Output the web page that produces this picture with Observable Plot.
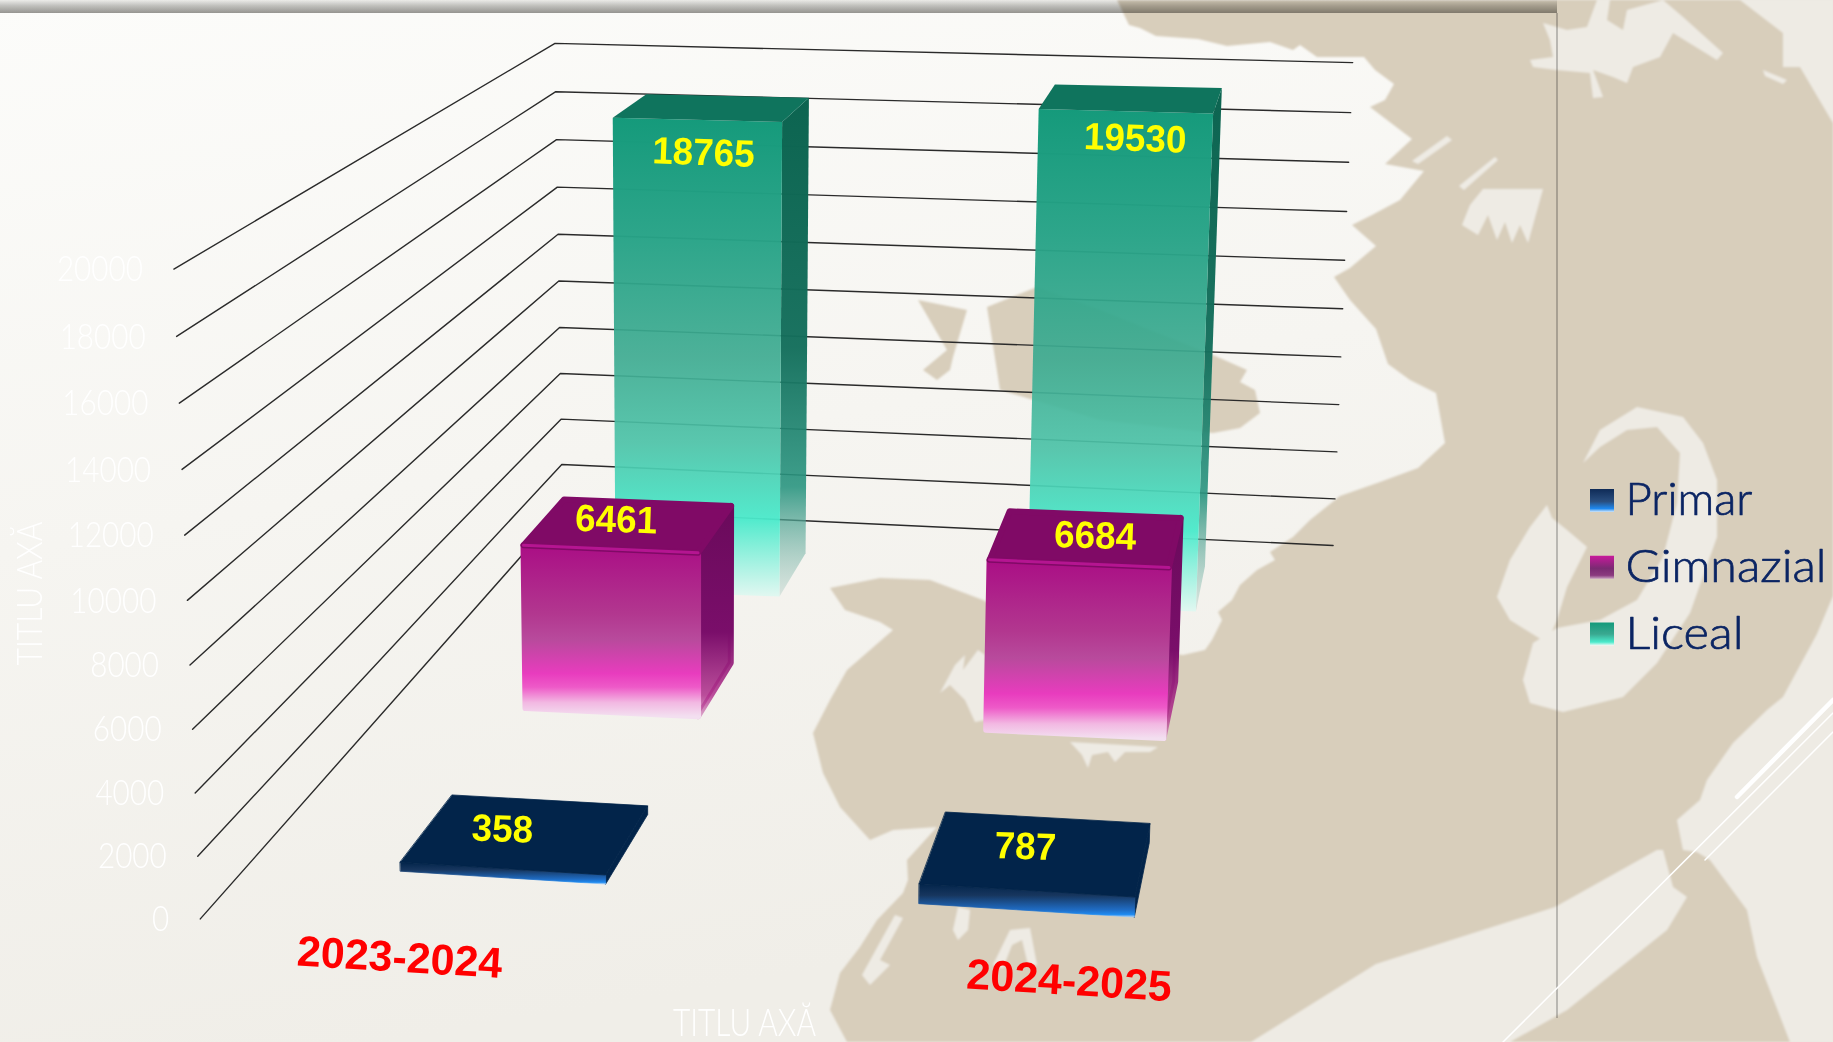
<!DOCTYPE html>
<html><head><meta charset="utf-8">
<script src="https://cdn.jsdelivr.net/npm/d3@7"></script>
<script src="https://cdn.jsdelivr.net/npm/@observablehq/plot@0.6"></script>
<style>
html,body{margin:0;padding:0;width:1833px;height:1042px;overflow:hidden;background:#d8cebb}
#bg{position:absolute;left:0;top:0}
#chart{position:absolute;left:0;top:0}
#chart svg{background:transparent;display:block}
</style></head><body>
<svg id="bg" width="1833" height="1042" viewBox="0 0 1833 1042"></svg>
<div id="chart"></div>
<script>
// ---------- data ----------
const categories = ["2023-2024", "2024-2025"];
const series = ["Primar", "Gimnazial", "Liceal"];
const primar = [358, 787];
const gimnazial = [6461, 6684];
const liceal = [18765, 19530];
const yTicks = [0, 2000, 4000, 6000, 8000, 10000, 12000, 14000, 16000, 18000, 20000];
const axisTitle = "TITLU AXĂ";

// ---------- decorative slide background (not data) ----------
const land = [[1117,0],[1833,0],[1833,1042],[847,1042],[830,1010],[840,973],[860,947],[877,920],[903,893],[908,880],[907,860],[937,827],[893,830],[870,840],[840,807],[823,773],[813,733],[830,700],[847,670],[893,630],[880,622],[845,610],[830,588],[880,578],[930,580],[983,600],[1050,640],[1183,655],[1205,650],[1212,640],[1222,620],[1218,612],[1232,600],[1240,585],[1257,570],[1275,560],[1270,552],[1293,537],[1310,520],[1340,496],[1380,482],[1418,468],[1445,443],[1436,393],[1410,380],[1388,364],[1376,329],[1350,300],[1334,277],[1350,268],[1376,246],[1352,225],[1372,215],[1400,200],[1424,171],[1385,164],[1412,139],[1370,107],[1385,100],[1394,84],[1375,70],[1364,57],[1317,57],[1300,45],[1293,50],[1270,42],[1227,46],[1198,39],[1156,36],[1140,28],[1129,25]];
const islands = [
 [[918,300],[967,310],[953,357],[950,370],[937,380],[923,370],[947,350]],
 [[987,307],[1037,287],[1100,310],[1213,355],[1247,370],[1240,382],[1255,390],[1260,413],[1240,428],[1213,433],[1100,420],[1000,390]]
];
const seaPatches = [
 [[1251,1042],[1376,964],[1555,907],[1657,850],[1663,850],[1673,887],[1687,897],[1667,930],[1567,1010],[1510,1042]],
 [[1833,596],[1817,634],[1783,697],[1767,710],[1733,743],[1707,780],[1700,800],[1677,820],[1683,850],[1697,852],[1710,860],[1747,910],[1757,957],[1790,1042],[1833,1042]],
 [[1740,0],[1783,33],[1783,67],[1800,67],[1833,123],[1833,0]],
 [[1543,23],[1567,30],[1587,27],[1597,0],[1610,0],[1607,20],[1623,30],[1627,10],[1663,0],[1683,17],[1723,53],[1717,60],[1673,33],[1660,57],[1633,67],[1627,83],[1613,77],[1593,70],[1603,97],[1593,98],[1590,73],[1557,70],[1533,67],[1530,60],[1553,57],[1550,40]],
 [[1763,70],[1787,80],[1783,84],[1765,76]],
 [[1447,136],[1452,140],[1418,164],[1412,161]],
 [[1495,157],[1498,160],[1464,190],[1459,186]],
 [[1543,189],[1528,243],[1520,225],[1512,243],[1505,222],[1497,240],[1488,215],[1478,235],[1462,225],[1470,205],[1483,189]],
 [[1583,463],[1600,430],[1637,407],[1683,417],[1703,443],[1717,480],[1717,537],[1690,613],[1657,663],[1623,697],[1563,712],[1530,703],[1523,680],[1533,643],[1557,628],[1600,620],[1637,600],[1663,557],[1677,503],[1680,453],[1657,427],[1627,430],[1600,447]],
 [[1547,505],[1552,518],[1567,530],[1587,547],[1567,587],[1557,620],[1547,643],[1510,620],[1497,597],[1510,560],[1530,527]],
 [[940,693],[955,665],[965,655],[963,670],[978,650],[985,655],[985,720],[975,722],[965,700],[950,685]],
 [[1070,742],[1158,747],[1150,752],[1125,752],[1115,762],[1108,752],[1092,755],[1088,768],[1082,755]],
 [[958,907],[970,910],[968,930],[958,940],[953,930]],
 [[993,965],[1010,930],[1030,928],[1037,965],[1028,965],[1022,940],[1012,945],[1003,968]],
 [[862,975],[895,915],[903,918],[880,960],[890,965],[870,985]]
];
const whiteLines = [
 {p:[[1737,797],[1833,700]],w:4.5},
 {p:[[1503,1042],[1833,713]],w:1.5},
 {p:[[1705,860],[1833,732]],w:1.5}
];
const pts = a => a.map(p => p.join(",")).join(" ");
document.getElementById("bg").innerHTML = `
<defs>
<linearGradient id="sea" x1="0" y1="0" x2="0.25" y2="1"><stop offset="0" stop-color="#fcfcfa"/><stop offset="1" stop-color="#f0eee8"/></linearGradient>
<linearGradient id="band" x1="0" y1="0" x2="0" y2="1"><stop offset="0" stop-color="#efefee"/><stop offset="0.45" stop-color="#c2c2c0"/><stop offset="1" stop-color="#989794"/></linearGradient>
<filter id="soft"><feGaussianBlur stdDeviation="1.2"/></filter>
</defs>
<rect x="0" y="0" width="1557" height="1042" fill="url(#sea)"/>
<rect x="1557" y="0" width="276" height="1042" fill="#ece9e2"/>
<g filter="url(#soft)">
<polygon points="${pts(land)}" fill="#d8cebb"/>
${islands.map(a=>`<polygon points="${pts(a)}" fill="#d8cebb"/>`).join("")}
${seaPatches.map(a=>`<polygon points="${pts(a)}" fill="#eeebe4"/>`).join("")}
</g>
<rect x="0" y="0" width="1557" height="13" fill="url(#band)" style="mix-blend-mode:multiply"/>
<rect x="1556" y="13" width="2" height="1005" fill="#000" opacity="0.22"/>
${whiteLines.map(l=>`<line x1="${l.p[0][0]}" y1="${l.p[0][1]}" x2="${l.p[1][0]}" y2="${l.p[1][1]}" stroke="#fff" stroke-width="${l.w}" stroke-linecap="round"/>`).join("")}
`;

// ---------- 3D projection: the chart's "scales" ----------
// wall gridlines: perspective-eased value scale on three vertical edges
const ease = v => { const t = v / 20000, r = 1.04; return t / (t + (1 - t) * r); };
const edge = (x0, y0, x1, y1) => ({
  x: d3.scaleLinear([0, 1], [x0, x1]),
  y: d3.scaleLinear([0, 1], [y0, y1])
});
const frontEdge = edge(199.8, 918.4, 173.4, 268.6);
const backEdge  = edge(562, 509, 554.5, 42.9);
const rightEdge = edge(1332.6, 545, 1352.2, 62.1);

// floor: homography of the unit square (u across, v into depth)
const quad = [[400,870.7],[1133.8,916.6],[1204,568],[645.8,550]];
const [p0,p1,p2,p3] = quad;
const sx=p0[0]-p1[0]+p2[0]-p3[0], sy=p0[1]-p1[1]+p2[1]-p3[1];
const dx1=p1[0]-p2[0], dy1=p1[1]-p2[1], dx2=p3[0]-p2[0], dy2=p3[1]-p2[1];
const det=dx1*dy2-dx2*dy1, hg=(sx*dy2-dx2*sy)/det, hh=(dx1*sy-sx*dy1)/det;
const ha=p1[0]-p0[0]+hg*p1[0], hb=p3[0]-p0[0]+hh*p3[0], hd=p1[1]-p0[1]+hg*p1[1], he=p3[1]-p0[1]+hh*p3[1];
const floor = (u,v) => { const w=hg*u+hh*v+1; return [(ha*u+hb*v+p0[0])/w,(hd*u+he*v+p0[1])/w]; };

// slot layout on the floor
const catU = [[0,0.293],[0.72,1]];
const rowV = [0,0.439,0.841];
const rowInset = [[[0,0],[0,0]],[[0,0.014],[0.006,0.01]],[[0,0],[0,0]]];
const rowDepth = 0.168;
// lift a floor point by a value
const lift = (u,v,depthFrac,val) => {
  const [x,y] = floor(u,v);
  const h = val * 0.0252 * (1 + 0.012*u) * (1 - 0.04*depthFrac);
  return {x: x + (x-700)*7e-5*h, y: y - h};
};

const values = [primar, gimnazial, liceal];
const bars = [];
series.forEach((s,r) => categories.forEach((c,i) => {
  const u0 = catU[i][0] + rowInset[r][i][0], u1 = catU[i][1] - rowInset[r][i][1];
  const v0 = rowV[r], v1 = v0 + rowDepth, val = values[r][i];
  const fl=lift(u0,v0,0,0), fr=lift(u1,v0,0,0), br=lift(u1,v1,1,0);
  const tfl=lift(u0,v0,0,val), tfr=lift(u1,v0,0,val), tbr=lift(u1,v1,1,val), tbl=lift(u0,v1,1,val);
  bars.push({series:s,category:c,r,i,val,
    front:[tfl,tfr,fr,fl], side:[tfr,tbr,br,fr], top:[tfl,tfr,tbr,tbl],
    cx:(tfl.x+tfr.x+tbr.x+tbl.x)/4, cy:(tfl.y+tfr.y+tbr.y+tbl.y)/4, edge:[tfl,tfr]});
}));

const styles = {
  Primar:    {top:"#02244a", front:"url(#pFront)", side:"url(#pSide)", sw:0.8},
  Gimnazial: {top:"#800a66", front:"url(#gFront)", side:"url(#gSide)", sw:6},
  Liceal:    {top:"#0f745d", front:"url(#lFront)", side:"url(#lSide)", sw:0}
};
const stops = a => a.map(([o,c,op])=>`<stop offset="${o}" stop-color="${c}" stop-opacity="${op??1}"/>`).join("");
const grad = (id,a) => `<linearGradient id="${id}" x1="0" y1="0" x2="0" y2="1">${stops(a)}</linearGradient>`;
const defsMark = () => {
  const g = document.createElementNS("http://www.w3.org/2000/svg","defs");
  g.innerHTML =
   grad("lFront",[[0,"#159a7b"],[0.25,"#27a387",0.97],[0.5,"#3eab91",0.92],[0.68,"#4cc3a8",0.92],[0.84,"#4aeacb",0.95],[1,"#dff8f1",0.9]]) +
   grad("lSide",[[0,"#0c6450"],[0.5,"#146f5c",0.97],[0.78,"#2a9580",0.9],[1,"#a8c8c0",0.35]]) +
   grad("gFront",[[0,"#aa0e85"],[0.4,"#b2378f"],[0.55,"#b84a9c"],[0.75,"#e83cbe"],[0.83,"#ee5ac8"],[0.92,"#f2b8e2"],[1,"#f3dff0"]]) +
   grad("gSide",[[0,"#6a0a5b"],[0.6,"#7a0e6a"],[0.9,"#b0308c",0.85],[1,"#c050a0",0.5]]) +
   grad("pFront",[[0,"#02244a"],[0.35,"#17365e"],[0.78,"#1f6cc4"],[0.92,"#1e8af0"],[1,"#a8d0f8"]]) +
   grad("pSide",[[0,"#02244a"],[1,"#02244a"]]) +
   grad("lgP",[[0,"#0f2b57"],[0.55,"#2a4f80"],[0.85,"#1e88ef"],[1,"#cfe6fb"]]) +
   grad("lgG",[[0,"#c81a9c"],[0.55,"#7a2a72"],[0.85,"#8a3a7e"],[1,"#c8a0c0"]]) +
   grad("lgL",[[0,"#159a7b"],[0.5,"#3aa890"],[0.85,"#4aeacb"],[1,"#e8fbf5"]]);
  return g;
};
const polygon = (points, fill, sw=0) => Plot.line(points, {x:"x", y:"y", curve:"linear-closed", fill, stroke: sw?fill:"none", strokeWidth: sw, strokeLinejoin:"round"});

// draw back rows first
const barMarks = [];
[...bars].sort((a,b)=>b.r-a.r).forEach(b=>{
  const st = styles[b.series];
  barMarks.push(polygon(b.side, st.side, st.sw));
  barMarks.push(polygon(b.front, st.front, st.sw));
  barMarks.push(polygon(b.top, st.top, st.sw));
  if (b.series==="Gimnazial") barMarks.push(Plot.line(b.edge,{x:"x",y:"y",stroke:"#c2189c",strokeWidth:3,strokeOpacity:.8}));
});

// gridlines
const grid = yTicks.flatMap(v => {
  const t = ease(v);
  return [frontEdge, backEdge, rightEdge].map(e => ({v, x:e.x(t), y:e.y(t)}));
});
const tickRows = yTicks.map(v => ({v, x:frontEdge.x(ease(v)) - 31, y:frontEdge.y(ease(v)) + 1}));

// labels: value sits on the bar's top face (Liceal: on the front face)
const nudge = {"Liceal|2023-2024":[-9,45],"Liceal|2024-2025":[3,40],
  "Gimnazial|2023-2024":[-13,-6],"Gimnazial|2024-2025":[8,-3],
  "Primar|2023-2024":[-24,-5],"Primar|2024-2025":[-12,-7]};
const valueLabels = bars.map(b=>{const n=nudge[b.series+"|"+b.category];return {t:String(b.val),x:b.cx+n[0],y:b.cy+n[1]};});
const catNudge = [[-72,36],[57,23]];
const catLabels = categories.map((c,i)=>{
  const [x,y]=floor((catU[i][0]+catU[i][1])/2,-0.1);
  return {t:c,x:x+catNudge[i][0],y:y+catNudge[i][1]};
});
const legendY = d3.scalePoint(series,[500.5,634]);
const legendRows = series.map(s=>({s,y:legendY(s)}));
const legendLen = {Primar:127,Gimnazial:201,Liceal:118};

const plot = Plot.plot({
  width:1833, height:1042, margin:0,
  x:{domain:[0,1833],range:[0,1833],axis:null},
  y:{domain:[0,1042],range:[0,1042],axis:null},
  style:{background:"transparent",overflow:"visible"},
  marks:[
    defsMark,
    Plot.line(grid,{x:"x",y:"y",z:"v",stroke:"#2a2a2a",strokeWidth:1.4,strokeLinejoin:"miter"}),
    Plot.text(tickRows,{className:"ticklab",x:"x",y:"y",text:d=>String(d.v),textAnchor:"end",fontFamily:"Lato",fontWeight:300,fontSize:35,fill:"#ffffff"}),
    Plot.text([axisTitle],{className:"ytitle",x:()=>30,y:()=>593,text:d=>d,rotate:-90,fontFamily:"Lato",fontWeight:300,fontSize:35,fill:"#ffffff"}),
    Plot.text([axisTitle],{className:"xtitle",x:()=>744,y:()=>1024,text:d=>d,fontFamily:"Lato",fontWeight:300,fontSize:37,fill:"#ffffff"}),
    ...barMarks,
    Plot.text(valueLabels,{className:"vallab",x:"x",y:"y",text:"t",fontFamily:"Liberation Sans",fontWeight:"bold",fontSize:38,fill:"#ffff00",rotate:2}),
    Plot.text(catLabels,{className:"catlab",x:"x",y:"y",text:"t",fontFamily:"Liberation Sans",fontWeight:"bold",fontSize:43,fill:"#ff0000",rotate:3.5}),
    ...legendRows.map((d,i)=>Plot.rect([d],{x1:()=>1590,x2:()=>1614,y1:r=>r.y-11.5,y2:r=>r.y+11.5,fill:["url(#lgP)","url(#lgG)","url(#lgL)"][i]})),
    Plot.text(legendRows,{className:"leglab",x:()=>1625,y:"y",text:"s",textAnchor:"start",fontFamily:"Lato",fontWeight:300,fontSize:45,fill:"#0a2463",stroke:"#0a2463",strokeWidth:0.7})
  ]
});
document.getElementById("chart").appendChild(plot);
// fit the warped slide lettering: narrow glyph runs to their measured lengths
const fit = (sel, len) => plot.querySelectorAll(sel + " text").forEach(t => {
  t.setAttribute("lengthAdjust","spacingAndGlyphs");
  t.setAttribute("textLength", len(t.textContent));
});
fit(".ticklab", s => s.length * 17.2);
fit(".ytitle", () => 144);
fit(".xtitle", () => 143);
fit(".vallab", s => s.length * 20.5);
fit(".leglab", s => legendLen[s]);
</script>
</body></html>
